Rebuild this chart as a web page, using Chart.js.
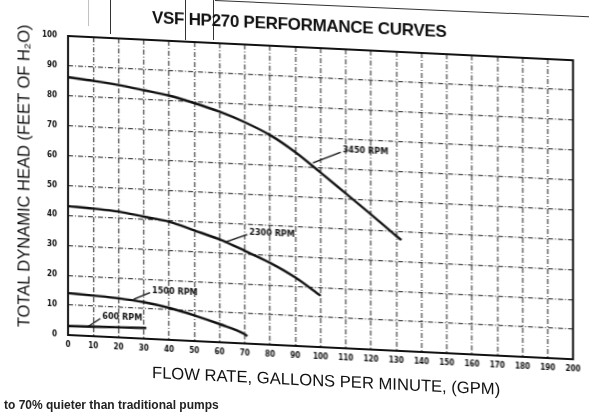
<!DOCTYPE html>
<html>
<head>
<meta charset="utf-8">
<script src="https://cdn.jsdelivr.net/npm/chart.js@4.4.1/dist/chart.umd.min.js"></script>
<style>
    html, body { margin: 0; padding: 0; background: #fff; }
    body { width: 589px; height: 412px; overflow: hidden; position: relative; font-family: "Liberation Sans", Arial, sans-serif; }
    #wrap { position: absolute; left: 0; top: 0; width: 589px; height: 412px; transform: skewY(2.75deg); transform-origin: 68px 0; }
    #chart { position: absolute; left: 0; top: 0; }
    .title { position: absolute; left: 152px; top: 4px; font-weight: bold; font-size: 17px; color: #111; white-space: nowrap; letter-spacing: -0.3px; }
    .ytitle { position: absolute; left: 24px; top: 178px; transform: translate(-50%, -50%) rotate(-90deg); font-size: 16.5px; color: #111; white-space: nowrap; }
    .xtitle { position: absolute; left: 152px; top: 359px; font-size: 16.6px; color: #111; white-space: nowrap; }
    .foot { position: absolute; left: 4px; top: 398px; font-size: 12px; font-weight: bold; color: #222; white-space: nowrap; }
    .scratch { position: absolute; background: #333; }
</style>
</head>
<body>
<div class="scratch" style="left:110px;top:0;width:1px;height:34px;"></div>
<div class="scratch" style="left:185px;top:0;width:1px;height:40px;"></div>
<div class="scratch" style="left:213px;top:0;width:1px;height:40px;"></div>
<div class="scratch" style="left:88px;top:0;width:1px;height:26px;opacity:0.3;"></div>
<div class="scratch" style="left:215px;top:0;width:380px;height:1px;transform:rotate(2.5deg);transform-origin:0 0;"></div>
<div id="wrap">
    <canvas id="chart" width="589" height="412"></canvas>
    <div class="title">VSF HP270 PERFORMANCE CURVES</div>
    <div class="ytitle">TOTAL DYNAMIC HEAD (FEET OF H₂O)</div>
    <div class="xtitle">FLOW RATE, GALLONS PER MINUTE, (GPM)</div>
</div>
<div class="foot">to 70% quieter than traditional pumps</div>
<script>
// flow in GPM, head in feet of water
const flow3450 = [0, 10, 20, 30, 40, 50, 60, 70, 80, 90, 100, 110, 120, 130, 132];
const head3450 = [86.2, 85.4, 84.4, 83.1, 81.7, 79.6, 77.1, 74.0, 70.1, 64.8, 58.4, 51.8, 45.2, 38.4, 37.1];

const flow2300 = [0, 10, 20, 30, 40, 50, 60, 70, 80, 90, 100];
const head2300 = [43.1, 42.7, 42.1, 40.8, 39.5, 37.0, 34.4, 31.0, 27.4, 22.9, 17.2];

const flow1500 = [0, 10, 20, 30, 40, 50, 60, 70, 71];
const head1500 = [14.0, 13.6, 13.1, 12.2, 10.7, 8.6, 6.1, 3.1, 2.5];

const flow600 = [0, 10, 20, 31];
const head600 = [3.0, 3.2, 3.4, 3.6];

const rpmNames = ['3450 RPM', '2300 RPM', '1500 RPM', '600 RPM'];
// leader line: [flow, head] on curve -> [flow, head] at text
const leaderFrom = [[97, 61.5], [62, 33.5], [26, 13.0], [8, 3.2]];
const leaderTo = [[108, 65.5], [71, 36.5], [32.5, 15.5], [12.8, 6.0]];

const flowTicks = [0, 200, 10];
const headTicks = [0, 100, 10];

let pumpChart;

document.addEventListener('DOMContentLoaded', () => {
    initializeChart();
});

function toPoints(xs, ys) {
    return xs.map((x, i) => ({ x: x, y: ys[i] }));
}

function curve(xs, ys) {
    return {
        data: toPoints(xs, ys),
        borderColor: '#111',
        borderWidth: 2.4,
        pointRadius: 0,
        cubicInterpolationMode: 'monotone',
        fill: false
    };
}

const framePlugin = {
    id: 'frame',
    afterDraw(chart) {
        const ctx = chart.ctx;
        const a = chart.chartArea;
        ctx.save();
        ctx.strokeStyle = '#111';
        ctx.lineWidth = 2;
        ctx.strokeRect(a.left, a.top, a.right - a.left, a.bottom - a.top);
        ctx.restore();
    }
};

const rpmLabelPlugin = {
    id: 'rpmLabels',
    afterDatasetsDraw(chart) {
        const ctx = chart.ctx;
        const xs = chart.scales.x;
        const ys = chart.scales.y;
        ctx.save();
        ctx.strokeStyle = '#111';
        ctx.fillStyle = '#111';
        ctx.lineWidth = 1.2;
        ctx.font = 'bold 9px "Liberation Sans Narrow", "DejaVu Sans Condensed", sans-serif';
        ctx.textBaseline = 'middle';
        rpmNames.forEach((name, i) => {
            const x1 = xs.getPixelForValue(leaderFrom[i][0]);
            const y1 = ys.getPixelForValue(leaderFrom[i][1]);
            const x2 = xs.getPixelForValue(leaderTo[i][0]);
            const y2 = ys.getPixelForValue(leaderTo[i][1]);
            ctx.beginPath();
            ctx.moveTo(x1, y1);
            ctx.lineTo(x2, y2);
            ctx.stroke();
            ctx.fillText(name, x2 + 2, y2 - 2);
        });
        ctx.restore();
    }
};

function initializeChart() {
    const ctx = document.getElementById('chart').getContext('2d');
    const gridStyle = {
        color: 'rgba(30, 30, 30, 0.8)',
        lineWidth: 1.3,
        drawTicks: false
    };
    pumpChart = new Chart(ctx, {
        type: 'line',
        data: {
            datasets: [
                curve(flow3450, head3450),
                curve(flow2300, head2300),
                curve(flow1500, head1500),
                curve(flow600, head600)
            ]
        },
        options: {
            responsive: false,
            animation: false,
            devicePixelRatio: 1,
            layout: { padding: { left: 0, right: 16, top: 36, bottom: 0 } },
            plugins: {
                legend: { display: false },
                tooltip: { enabled: false }
            },
            scales: {
                x: {
                    type: 'linear',
                    min: flowTicks[0],
                    max: flowTicks[1],
                    ticks: {
                        stepSize: flowTicks[2],
                        padding: 5,
                        color: '#111',
                        font: { size: 8, weight: 'bold', family: '"Liberation Sans Narrow", "DejaVu Sans Condensed", sans-serif' },
                        maxRotation: 0,
                        autoSkip: false
                    },
                    grid: gridStyle,
                    border: { display: false, dash: [5, 2, 1, 2] },
                    afterFit(scale) { scale.height = 77; }
                },
                y: {
                    min: headTicks[0],
                    max: headTicks[1],
                    ticks: {
                        stepSize: headTicks[2],
                        padding: 11,
                        color: '#111',
                        font: { size: 8, weight: 'bold', family: '"Liberation Sans Narrow", "DejaVu Sans Condensed", sans-serif' }
                    },
                    grid: gridStyle,
                    border: { display: false, dash: [5, 2, 1, 2] },
                    afterFit(scale) { scale.width = 68; }
                }
            }
        },
        plugins: [framePlugin, rpmLabelPlugin]
    });
}
</script>
</body>
</html>
